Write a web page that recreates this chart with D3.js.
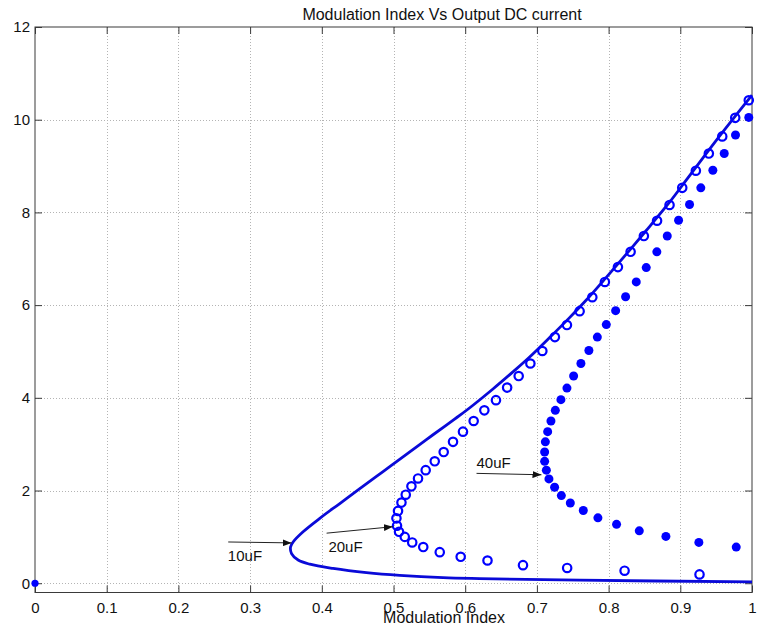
<!DOCTYPE html>
<html>
<head>
<meta charset="utf-8">
<script src="https://cdn.jsdelivr.net/npm/d3@7"></script>
<style>
  body { margin: 0; background: #fff; }
  svg { display: block; }
  text { font-family: "Liberation Sans", Arial, sans-serif; fill: #111; }
</style>
</head>
<body>
<svg id="chart" width="759" height="632"></svg>
<script>
// ---- Data ---------------------------------------------------------------
const titleText = "Modulation Index Vs Output DC current";
const xLabelText = "Modulation Index";

const xTicks = [0, 0.1, 0.2, 0.3, 0.4, 0.5, 0.6, 0.7, 0.8, 0.9, 1];
const xTickLabels = ["0", "0.1", "0.2", "0.3", "0.4", "0.5", "0.6", "0.7", "0.8", "0.9", "1"];
const yTicks = [0, 2, 4, 6, 8, 10, 12];
const yTickLabels = ["0", "2", "4", "6", "8", "10", "12"];

// 10uF: modulation index and output DC current (solid curve)
const m10uF = [1.000, 0.955, 0.9085, 0.885, 0.8525, 0.8247, 0.7968, 0.7689, 0.7456, 0.7178,
  0.6899, 0.6666, 0.6387, 0.6109, 0.5923, 0.5738, 0.5459, 0.5180, 0.4854, 0.4530,
  0.4251, 0.3972, 0.3739, 0.3600, 0.3564, 0.3578, 0.3670, 0.3833, 0.4157, 0.4623,
  0.5087, 0.5691, 0.6202, 0.7596, 1.000];
const i10uF = [10.53, 9.65, 8.70, 8.22, 7.61, 7.10, 6.60, 6.11, 5.73, 5.30,
  4.88, 4.56, 4.19, 3.84, 3.62, 3.41, 3.10, 2.78, 2.41, 2.04,
  1.72, 1.40, 1.11, 0.89, 0.78, 0.64, 0.50, 0.41, 0.32, 0.23,
  0.17, 0.12, 0.10, 0.065, 0.03];

// 20uF: open circles
const m20uF = [0.9955, 0.9766, 0.9585, 0.9398, 0.9217, 0.9027, 0.8850, 0.8676, 0.8492, 0.8307,
  0.8130, 0.7948, 0.7773, 0.7596, 0.7419, 0.7251, 0.7076, 0.6909, 0.6746, 0.6585,
  0.6429, 0.6267, 0.6118, 0.5969, 0.5830, 0.5700, 0.5575, 0.5449, 0.5342, 0.5250,
  0.5171, 0.5111, 0.5063, 0.5041, 0.5049, 0.5077, 0.5157, 0.5261, 0.5415, 0.5645,
  0.5937, 0.6311, 0.6806, 0.7422, 0.8223, 0.9268];
const i20uF = [10.42, 10.04, 9.64, 9.27, 8.90, 8.53, 8.16, 7.82, 7.49, 7.15,
  6.82, 6.50, 6.17, 5.87, 5.57, 5.31, 5.01, 4.74, 4.47, 4.22,
  3.95, 3.73, 3.50, 3.27, 3.05, 2.83, 2.63, 2.44, 2.26, 2.09,
  1.91, 1.74, 1.56, 1.40, 1.24, 1.11, 1.00, 0.88, 0.78, 0.67,
  0.57, 0.49, 0.39, 0.33, 0.27, 0.19];

// 40uF: filled dots
const m40uF = [0.9955, 0.9770, 0.9613, 0.9454, 0.9286, 0.9129, 0.8976, 0.8818, 0.8673, 0.8525,
  0.8386, 0.8237, 0.8098, 0.7968, 0.7843, 0.7725, 0.7614, 0.7512, 0.7419, 0.7335,
  0.7257, 0.7196, 0.7150, 0.7118, 0.7108, 0.7108, 0.7132, 0.7168, 0.7247, 0.7341,
  0.7466, 0.7647, 0.7851, 0.8111, 0.8428, 0.8799, 0.9259, 0.9780];
const i40uF = [10.05, 9.67, 9.27, 8.91, 8.53, 8.17, 7.83, 7.49, 7.15, 6.81,
  6.50, 6.18, 5.88, 5.58, 5.31, 5.02, 4.74, 4.47, 4.21, 3.96,
  3.73, 3.50, 3.27, 3.05, 2.83, 2.63, 2.44, 2.25, 2.07, 1.89,
  1.73, 1.57, 1.41, 1.27, 1.13, 1.01, 0.88, 0.78];

// Single point at the origin
const mOrigin = [0];
const iOrigin = [0];

// Capacitance annotations (data coordinates)
const annotLabels = ["10uF", "20uF", "40uF"];
const annotFrom = [[0.2695, 0.89], [0.4067, 1.08], [0.6158, 2.37]];
const annotTo = [[0.3579, 0.87], [0.4991, 1.22], [0.7064, 2.34]];
const annotTextAt = [[0.269, 0.475], [0.4092, 0.68], [0.6158, 2.48]];

// ---- Layout -------------------------------------------------------------
const svg = d3.select("#chart");
const plotLeft = 35, plotRight = 752, plotTop = 27, plotBottom = 592.5;
const blue = "#0000ff";

const x = d3.scaleLinear().domain([0, 1]).range([plotLeft, plotRight]);
const y = d3.scaleLinear().domain([-0.2, 12]).range([plotBottom, plotTop]);

// Grid (dotted)
const grid = svg.append("g").attr("stroke", "#b4b4b4").attr("stroke-width", 1)
  .attr("stroke-dasharray", "1,2");
grid.selectAll("line.gx").data(xTicks.filter(d => d > 0 && d < 1)).enter().append("line")
  .attr("x1", d => Math.round(x(d)) + 0.5).attr("x2", d => Math.round(x(d)) + 0.5)
  .attr("y1", plotTop).attr("y2", plotBottom);
grid.selectAll("line.gy").data(yTicks.filter(d => d < 12)).enter().append("line")
  .attr("y1", d => Math.round(y(d)) + 0.5).attr("y2", d => Math.round(y(d)) + 0.5)
  .attr("x1", plotLeft).attr("x2", plotRight);

// Axes with inward ticks on all four sides
const axisColor = "#3a3a3a";
const gB = svg.append("g").attr("transform", `translate(0,${plotBottom})`)
  .call(d3.axisBottom(x).tickValues(xTicks).tickFormat((d, i) => xTickLabels[i])
    .tickSizeInner(-7).tickSizeOuter(0).tickPadding(10));
const gL = svg.append("g").attr("transform", `translate(${plotLeft},0)`)
  .call(d3.axisLeft(y).tickValues(yTicks).tickFormat((d, i) => yTickLabels[i])
    .tickSizeInner(-7).tickSizeOuter(0).tickPadding(5));
const gT = svg.append("g").attr("transform", `translate(0,${plotTop})`)
  .call(d3.axisTop(x).tickValues(xTicks).tickFormat("").tickSizeInner(-7).tickSizeOuter(0));
const gR = svg.append("g").attr("transform", `translate(${plotRight},0)`)
  .call(d3.axisRight(y).tickValues(yTicks).tickFormat("").tickSizeInner(-7).tickSizeOuter(0));
[gB, gL, gT, gR].forEach(g => {
  g.attr("color", axisColor);
  g.select(".domain").remove();
  g.selectAll("text").attr("font-size", 15).attr("fill", "#111")
    .attr("font-family", "'Liberation Sans', Arial, sans-serif");
});

svg.append("rect").attr("x", plotLeft).attr("y", plotTop)
  .attr("width", plotRight - plotLeft).attr("height", plotBottom - plotTop)
  .attr("fill", "none").attr("stroke", axisColor).attr("stroke-width", 1);

// 10uF curve
const line = d3.line().x(d => x(d[0])).y(d => y(d[1])).curve(d3.curveCatmullRom.alpha(0.5));
svg.append("path").datum(d3.zip(m10uF, i10uF))
  .attr("d", line).attr("fill", "none").attr("stroke", "#0a0ad8")
  .attr("stroke-width", 2.8).attr("stroke-linejoin", "round");

// 20uF open circles
svg.append("g").selectAll("circle").data(d3.zip(m20uF, i20uF)).enter().append("circle")
  .attr("cx", d => x(d[0])).attr("cy", d => y(d[1])).attr("r", 4.2)
  .attr("fill", "none").attr("stroke", blue).attr("stroke-width", 2.2);

// 40uF filled dots
svg.append("g").selectAll("circle").data(d3.zip(m40uF, i40uF)).enter().append("circle")
  .attr("cx", d => x(d[0])).attr("cy", d => y(d[1])).attr("r", 4.5).attr("fill", blue);

// Origin point
svg.append("g").selectAll("circle").data(d3.zip(mOrigin, iOrigin)).enter().append("circle")
  .attr("cx", d => x(d[0])).attr("cy", d => y(d[1])).attr("r", 3.6).attr("fill", blue);

// Annotation arrows and labels
svg.append("defs").append("marker")
  .attr("id", "arrowhead").attr("markerUnits", "userSpaceOnUse")
  .attr("markerWidth", 9).attr("markerHeight", 7).attr("refX", 9).attr("refY", 3.5)
  .attr("orient", "auto")
  .append("path").attr("d", "M0,0 L9,3.5 L0,7 Z").attr("fill", "#111");

const ann = svg.append("g");
annotLabels.forEach((lab, i) => {
  ann.append("line")
    .attr("x1", x(annotFrom[i][0])).attr("y1", y(annotFrom[i][1]))
    .attr("x2", x(annotTo[i][0])).attr("y2", y(annotTo[i][1]))
    .attr("stroke", "#222").attr("stroke-width", 1)
    .attr("marker-end", "url(#arrowhead)");
  ann.append("text").attr("x", x(annotTextAt[i][0])).attr("y", y(annotTextAt[i][1]))
    .attr("font-size", 15).text(lab);
});

// Title and axis label
svg.append("text").attr("x", 442).attr("y", 20).attr("text-anchor", "middle")
  .attr("font-size", 16).text(titleText);
svg.append("text").attr("x", 444).attr("y", 623).attr("text-anchor", "middle")
  .attr("font-size", 16).text(xLabelText);
</script>
</body>
</html>
